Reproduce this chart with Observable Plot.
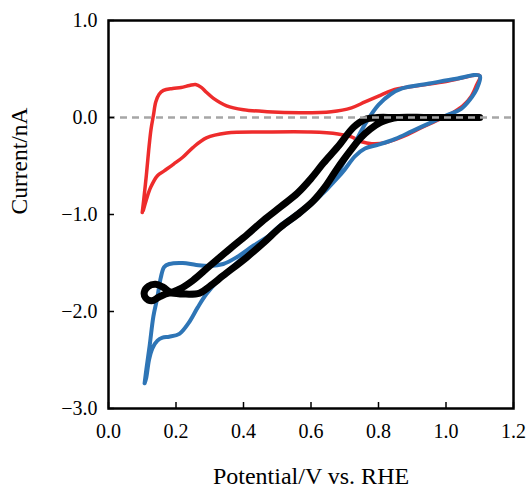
<!DOCTYPE html>
<html>
<head>
<meta charset="utf-8">
<script src="https://cdn.jsdelivr.net/npm/d3@7"></script>
<script src="https://cdn.jsdelivr.net/npm/@observablehq/plot@0.6"></script>
<style>
  html, body { margin: 0; padding: 0; background: #fff; }
</style>
</head>
<body>
<div id="chart"></div>
<script>
const xTicks = [0, 0.2, 0.4, 0.6, 0.8, 1.0, 1.2];
const yTicks = [-3, -2, -1, 0, 1];
const xTitle = ["Potential/V vs. RHE"];
const yTitle = ["Current/nA"];

// Red CV loop
const redX = [0.100,0.104,0.112,0.119,0.126,0.133,0.140,0.150,0.163,0.190,0.215,0.240,0.258,0.275,0.290,0.310,0.350,0.400,0.470,0.570,0.660,0.720,0.760,0.800,0.840,0.900,1.000,1.100,
              1.090,1.075,1.050,1.020,0.980,0.930,0.870,0.820,0.780,0.750,0.720,0.680,0.600,0.470,0.350,0.290,0.250,0.220,0.193,0.165,0.145,0.125,0.112,0.103];
const redY = [-0.98,-0.86,-0.60,-0.34,-0.12,0.02,0.16,0.24,0.28,0.30,0.31,0.33,0.34,0.31,0.26,0.20,0.12,0.08,0.06,0.05,0.06,0.10,0.16,0.22,0.28,0.32,0.37,0.43,
              0.33,0.22,0.12,0.05,-0.02,-0.10,-0.20,-0.26,-0.27,-0.25,-0.20,-0.17,-0.15,-0.15,-0.16,-0.21,-0.31,-0.41,-0.48,-0.55,-0.60,-0.72,-0.85,-0.96];

// Blue CV loop
const blueX = [0.107,0.112,0.120,0.130,0.145,0.160,0.180,0.210,0.237,0.264,0.290,0.330,0.380,0.450,0.510,0.569,0.658,0.717,0.767,0.800,0.836,0.870,0.950,1.030,1.100,
               1.093,1.070,1.045,1.000,0.950,0.900,0.850,0.800,0.760,0.730,0.690,0.600,0.520,0.430,0.380,0.340,0.300,0.260,0.220,0.180,0.165,0.155,0.145,0.133,0.122,0.112,0.107];
const blueY = [-2.74,-2.68,-2.50,-2.38,-2.30,-2.27,-2.26,-2.23,-2.12,-1.96,-1.82,-1.66,-1.50,-1.30,-1.11,-0.96,-0.68,-0.34,-0.03,0.13,0.24,0.30,0.35,0.40,0.43,
               0.31,0.18,0.09,0.02,-0.06,-0.14,-0.22,-0.28,-0.32,-0.40,-0.58,-0.90,-1.12,-1.32,-1.44,-1.51,-1.53,-1.52,-1.50,-1.51,-1.54,-1.65,-1.85,-2.05,-2.35,-2.60,-2.74];

// Black CV loop
const blackX = [1.100,0.950,0.856,0.830,0.806,0.775,0.747,0.715,0.679,0.645,0.607,0.560,0.510,0.460,0.410,0.340,0.300,0.270,0.220,0.180,0.150,0.128,0.110,0.106,0.118,0.140,0.162,0.185,0.210,0.250,0.300,0.361,0.410,0.459,0.510,0.560,0.600,0.637,0.680,0.726,0.760,0.797,0.850,1.000,1.100];
const blackY = [0.00,0.00,0.00,-0.02,-0.05,-0.12,-0.21,-0.35,-0.52,-0.70,-0.86,-1.00,-1.13,-1.29,-1.44,-1.63,-1.74,-1.81,-1.82,-1.81,-1.85,-1.89,-1.86,-1.80,-1.74,-1.72,-1.75,-1.80,-1.77,-1.68,-1.53,-1.35,-1.21,-1.06,-0.92,-0.78,-0.63,-0.47,-0.30,-0.10,-0.02,0.00,0.00,0.00,0.00];

const toRows = (xs, ys) => xs.map((x, i) => ({x, y: ys[i]}));
const red = toRows(redX, redY);
const blue = toRows(blueX, blueY);
const black = toRows(blackX, blackY);

const fmt = d => (d < 0 ? "\u2212" : "") + Math.abs(d).toFixed(1);

const chart = Plot.plot({
  width: 528,
  height: 493,
  marginLeft: 108,
  marginRight: 15,
  marginTop: 20,
  marginBottom: 85,
  style: {fontFamily: "'Liberation Serif', 'Times New Roman', serif", fontSize: "20px", color: "#000", background: "#fff"},
  x: {domain: [0, 1.2]},
  y: {domain: [-3, 1]},
  marks: [
    Plot.line(red, {x: "x", y: "y", stroke: "#ee2c2c", strokeWidth: 3.5, curve: "catmull-rom", strokeLinejoin: "round", strokeLinecap: "round"}),
    Plot.line(blue, {x: "x", y: "y", stroke: "#2e75b6", strokeWidth: 4, curve: "catmull-rom", strokeLinejoin: "round", strokeLinecap: "round"}),
    Plot.line(black, {x: "x", y: "y", stroke: "#000", strokeWidth: 7, curve: "catmull-rom", strokeLinejoin: "round", strokeLinecap: "round"}),
    Plot.ruleY([0], {stroke: "#a6a6a6", strokeWidth: 2.5, strokeDasharray: "7,5"}),
    Plot.axisX({ticks: xTicks, tickSize: -6, tickPadding: 21, strokeWidth: 1.5, tickFormat: fmt, label: null, fontSize: 20}),
    Plot.axisY({ticks: yTicks, tickSize: -6, tickPadding: 17, strokeWidth: 1.5, tickFormat: fmt, label: null, fontSize: 20}),
    Plot.text(xTitle, {text: d => d, frameAnchor: "bottom", lineAnchor: "bottom", dy: 75, fontSize: 24, fill: "#000"}),
    Plot.text(yTitle, {text: d => d, frameAnchor: "left", lineAnchor: "top", rotate: -90, dx: -98, fontSize: 23.5, fill: "#000"}),
    Plot.frame({stroke: "#000", strokeWidth: 2.5})
  ]
});
document.getElementById("chart").appendChild(chart);
</script>
</body>
</html>
